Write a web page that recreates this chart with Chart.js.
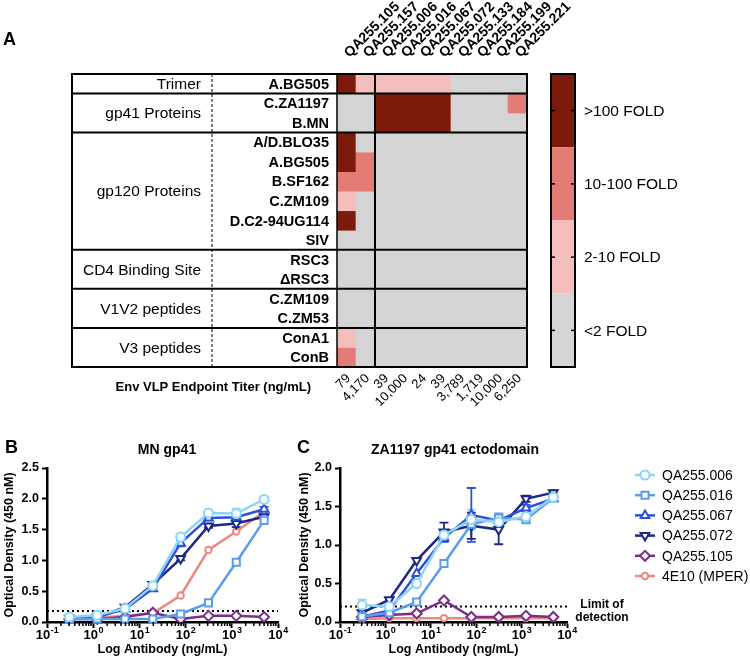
<!DOCTYPE html>
<html>
<head>
<meta charset="utf-8">
<title>Env VLP binding</title>
<script src="https://cdn.jsdelivr.net/npm/chart.js@4.4.1/dist/chart.umd.min.js"></script>
<style>
  html, body { margin: 0; padding: 0; background: #fff; }
  #page { position: relative; width: 750px; height: 659px; overflow: hidden; }
  canvas { position: absolute; }
  #heatmap { left: 0; top: 0; }
  #mnChart { left: 0; top: 430px; }
  #zaChart { left: 292px; top: 430px; }
</style>
</head>
<body>
<div id="page">
  <canvas id="heatmap" width="750" height="425"></canvas>
  <canvas id="mnChart" width="292" height="229"></canvas>
  <canvas id="zaChart" width="458" height="229"></canvas>
</div>
<script>
// ---- panel A data ----
const columns = ['QA255.105', 'QA255.157', 'QA255.006', 'QA255.016', 'QA255.067',
                 'QA255.072', 'QA255.133', 'QA255.184', 'QA255.199', 'QA255.221'];
const titers = ['79', '4,170', '39', '10,000', '24', '39', '3,789', '1,719', '10,000', '6,250'];
const groups = ['Trimer', 'gp41 Proteins', 'gp120 Proteins', 'CD4 Binding Site', 'V1V2 peptides', 'V3 peptides'];
const groupSizes = [1, 2, 6, 2, 2, 2];
const antigens = ['A.BG505', 'C.ZA1197', 'B.MN', 'A/D.BLO35', 'A.BG505', 'B.SF162', 'C.ZM109',
                  'D.C2-94UG114', 'SIV', 'RSC3', '\u0394RSC3', 'C.ZM109', 'C.ZM53', 'ConA1', 'ConB'];
// 0 = <2 fold, 1 = 2-10, 2 = 10-100, 3 = >100
const foldLevels = [
  [3, 1, 1, 1, 1, 1, 0, 0, 0, 0],
  [0, 0, 3, 3, 3, 3, 0, 0, 0, 2],
  [0, 0, 3, 3, 3, 3, 0, 0, 0, 0],
  [3, 0, 0, 0, 0, 0, 0, 0, 0, 0],
  [3, 2, 0, 0, 0, 0, 0, 0, 0, 0],
  [2, 2, 0, 0, 0, 0, 0, 0, 0, 0],
  [1, 0, 0, 0, 0, 0, 0, 0, 0, 0],
  [3, 0, 0, 0, 0, 0, 0, 0, 0, 0],
  [0, 0, 0, 0, 0, 0, 0, 0, 0, 0],
  [0, 0, 0, 0, 0, 0, 0, 0, 0, 0],
  [0, 0, 0, 0, 0, 0, 0, 0, 0, 0],
  [0, 0, 0, 0, 0, 0, 0, 0, 0, 0],
  [0, 0, 0, 0, 0, 0, 0, 0, 0, 0],
  [1, 0, 0, 0, 0, 0, 0, 0, 0, 0],
  [2, 0, 0, 0, 0, 0, 0, 0, 0, 0]
];
const foldLabels = ['<2 FOLD', '2-10 FOLD', '10-100 FOLD', '>100 FOLD'];
const foldColors = ['#d4d4d4', '#f3bebb', '#e47c76', '#7c1a0b'];

// ---- panels B, C data ----
const dilutions = [0.305, 1.22, 4.88, 19.5, 78.1, 312.5, 1250, 5000];
const decades = [0.1, 1, 10, 100, 1000, 10000];
const seriesNames = ['QA255.006', 'QA255.016', 'QA255.067', 'QA255.072', 'QA255.105', '4E10 (MPER)'];

const mnLimit = 0.18;
const mn006 = [0.08, 0.11, 0.22, 0.59, 1.38, 1.77, 1.76, 1.99];
const mn016 = [0.05, 0.05, 0.05, 0.05, 0.13, 0.31, 0.97, 1.65];
const mn067 = [0.06, 0.08, 0.21, 0.54, 1.28, 1.69, 1.70, 1.83];
const mn072 = [0.06, 0.08, 0.24, 0.61, 1.03, 1.56, 1.60, 1.71];
const mn105 = [0.05, 0.05, 0.08, 0.15, 0.05, 0.10, 0.10, 0.08];
const mn4E10 = [0.05, 0.07, 0.10, 0.14, 0.43, 1.17, 1.47, 1.79];
const mnErr006 = [0, 0, 0, 0, 0.04, 0.03, 0.08, 0.04];
const mnErr067 = [0, 0, 0, 0.03, 0.05, 0.04, 0.06, 0.04];
const mnErr072 = [0, 0, 0, 0, 0.03, 0.03, 0.06, 0.03];

const zaLimit = 0.2;
const za006 = [0.22, 0.20, 0.50, 1.13, 1.33, 1.30, 1.37, 1.62];
const za016 = [0.07, 0.12, 0.26, 0.76, 1.27, 1.35, 1.33, 1.61];
const za067 = [0.07, 0.15, 0.63, 1.09, 1.39, 1.32, 1.48, 1.60];
const za072 = [0.12, 0.29, 0.80, 1.17, 1.25, 1.20, 1.60, 1.68];
const za105 = [0.065, 0.09, 0.11, 0.28, 0.065, 0.065, 0.08, 0.065];
const za4E10 = [0.04, 0.05, 0.05, 0.05, 0.05, 0.05, 0.05, 0.05];
const zaErr006 = [0.07, 0.02, 0.03, 0.05, 0.13, 0.05, 0.04, 0.04];
const zaErr016 = [0, 0, 0, 0, 0.05, 0.06, 0.04, 0.03];
const zaErr067 = [0, 0, 0, 0.05, 0.35, 0.05, 0.04, 0.03];
const zaErr072 = [0, 0, 0, 0.12, 0.17, 0.19, 0.04, 0.03];

const FONT = "'Liberation Sans', Arial, Helvetica, sans-serif";
Chart.defaults.font.family = FONT;
Chart.defaults.color = '#000';

// ---- panel A: table frame, labels, colour bar ----
const tableFrame = {
  id: 'tableFrame',
  afterDraw(chart) {
    const { ctx, chartArea: a, scales: { x, y } } = chart;
    const left = 72, dashX = 212, nameX = 329, groupX = 201;
    const line = (x0, y0, x1, y1) => { ctx.beginPath(); ctx.moveTo(x0, y0); ctx.lineTo(x1, y1); ctx.stroke(); };
    ctx.save();
    ctx.strokeStyle = '#000';
    ctx.fillStyle = '#000';

    ctx.lineWidth = 1;
    ctx.setLineDash([3, 2]);
    line(dashX, a.top, dashX, a.bottom);
    ctx.setLineDash([]);

    ctx.lineWidth = 1.5;
    line(a.left, a.top, a.left, a.bottom);
    ctx.lineWidth = 2;
    const edge = (x.getPixelForValue(1) + x.getPixelForValue(2)) / 2;
    line(edge, a.top, edge, a.bottom);

    let start = 0;
    ctx.font = '15.5px ' + FONT;
    ctx.textAlign = 'right';
    ctx.textBaseline = 'middle';
    groups.forEach((g, gi) => {
      const end = start + groupSizes[gi];
      const y0 = y.getPixelForValue(start), y1 = y.getPixelForValue(end);
      if (gi < groups.length - 1) line(left, y1, a.right, y1);
      ctx.fillText(g, groupX, (y0 + y1) / 2 + 1);
      start = end;
    });
    ctx.strokeRect(left, a.top, a.right - left, a.bottom - a.top);

    ctx.font = 'bold 14.5px ' + FONT;
    antigens.forEach((name, r) => {
      ctx.fillText(name, nameX, y.getPixelForValue(r + 0.5) + 1);
    });

    // column names on top, rotated
    ctx.font = 'bold 14px ' + FONT;
    ctx.textAlign = 'left';
    ctx.textBaseline = 'alphabetic';
    columns.forEach((c, i) => {
      ctx.save();
      ctx.translate(x.getPixelForValue(i) + 3, a.top - 16);
      ctx.rotate(-Math.PI / 4);
      ctx.fillText(c, 0, 0);
      ctx.restore();
    });

    // endpoint titers under the grid
    ctx.font = '13px ' + FONT;
    ctx.textAlign = 'right';
    titers.forEach((t, i) => {
      ctx.save();
      ctx.translate(x.getPixelForValue(i) + 4.5, a.bottom + 12);
      ctx.rotate(-Math.PI / 4);
      ctx.fillText(t, 0, 0);
      ctx.restore();
    });
    ctx.font = 'bold 13px ' + FONT;
    ctx.fillText('Env VLP Endpoint Titer (ng/mL)', 311, 391);

    ctx.textAlign = 'left';
    ctx.font = 'bold 18px ' + FONT;
    ctx.fillText('A', 3, 45);

    // colour bar
    const bx = 551, bw = 24, seg = (a.bottom - a.top) / foldColors.length;
    ctx.font = '15.5px ' + FONT;
    ctx.textBaseline = 'middle';
    foldColors.forEach((col, k) => {
      const lvl = foldColors.length - 1 - k;
      const top = a.top + k * seg;
      ctx.fillStyle = foldColors[lvl];
      ctx.fillRect(bx, top, bw, seg);
      const mid = top + seg / 2;
      ctx.lineWidth = 1.5;
      line(bx + 1, mid, bx + 4, mid);
      line(bx + bw - 4, mid, bx + bw - 1, mid);
      ctx.fillStyle = '#000';
      ctx.fillText(foldLabels[lvl], 584, mid + 1);
    });
    ctx.lineWidth = 2;
    ctx.strokeRect(bx, a.top, bw, a.bottom - a.top);
    ctx.restore();
  }
};

new Chart(document.getElementById('heatmap').getContext('2d'), {
  type: 'bar',
  data: {
    labels: columns,
    datasets: antigens.map((name, r) => ({
      label: name,
      data: columns.map(() => 1),
      backgroundColor: foldLevels[r].map(l => foldColors[l]),
      borderWidth: 0,
      barPercentage: 1,
      categoryPercentage: 1
    }))
  },
  options: {
    responsive: false,
    animation: false,
    layout: { padding: { left: 337, right: 223, top: 74, bottom: 58 } },
    plugins: { legend: { display: false }, tooltip: { enabled: false } },
    scales: {
      x: { display: false, stacked: true },
      y: { display: false, stacked: true, min: 0, max: antigens.length, reverse: true }
    }
  },
  plugins: [tableFrame]
});

// ---- panels B, C helpers ----
const errorBars = {
  id: 'errorBars',
  beforeDatasetsDraw(chart) {
    const { ctx, scales: { x, y } } = chart;
    chart.data.datasets.forEach(ds => {
      if (!ds.errors) return;
      ctx.save();
      ctx.strokeStyle = ds.borderColor;
      ctx.lineWidth = 1.8;
      ds.data.forEach((p, j) => {
        const e = ds.errors[j];
        if (!e) return;
        const px = x.getPixelForValue(p.x);
        const top = y.getPixelForValue(p.y + e), bot = y.getPixelForValue(Math.max(0, p.y - e));
        ctx.beginPath();
        ctx.moveTo(px, top); ctx.lineTo(px, bot);
        ctx.moveTo(px - 4.5, top); ctx.lineTo(px + 4.5, top);
        ctx.moveTo(px - 4.5, bot); ctx.lineTo(px + 4.5, bot);
        ctx.stroke();
      });
      ctx.restore();
    });
  }
};

const logAxis = {
  id: 'logAxis',
  afterDraw(chart) {
    const { ctx, chartArea: a, scales: { x } } = chart;
    ctx.save();
    ctx.strokeStyle = '#000';
    ctx.lineWidth = 1.5;
    decades.slice(0, -1).forEach(d => {
      for (let k = 2; k < 10; k++) {
        const px = x.getPixelForValue(d * k);
        ctx.beginPath(); ctx.moveTo(px, a.bottom); ctx.lineTo(px, a.bottom + 4); ctx.stroke();
      }
    });
    ctx.fillStyle = '#000';
    ctx.textAlign = 'left';
    ctx.textBaseline = 'alphabetic';
    x.ticks.forEach(t => {
      const px = x.getPixelForValue(t.value);
      const exp = String(Math.round(Math.log10(t.value)));
      ctx.font = 'bold 13px ' + FONT;
      const wb = ctx.measureText('10').width;
      ctx.font = 'bold 9px ' + FONT;
      const we = ctx.measureText(exp).width;
      const x0 = px - (wb + we) / 2;
      ctx.font = 'bold 13px ' + FONT;
      ctx.fillText('10', x0, a.bottom + 17);
      ctx.font = 'bold 9px ' + FONT;
      ctx.fillText(exp, x0 + wb + 0.5, a.bottom + 11);
    });
    ctx.restore();
  }
};

const panelText = {
  id: 'panelText',
  afterDraw(chart, args, opts) {
    const { ctx } = chart;
    ctx.save();
    ctx.fillStyle = '#000';
    ctx.textBaseline = 'alphabetic';
    ctx.textAlign = 'left';
    ctx.font = 'bold 18px ' + FONT;
    ctx.fillText(opts.letter, 5, 23);
    ctx.textAlign = 'center';
    ctx.font = 'bold 14px ' + FONT;
    ctx.fillText(opts.title, opts.titleX, 24);
    if (opts.legend) {
      const items = chart.data.datasets.filter(d => !d.isLimit);
      items.forEach((ds, i) => {
        const yy = opts.legend.top + i * opts.legend.step;
        const lx = opts.legend.x;
        ctx.strokeStyle = ds.borderColor;
        ctx.lineWidth = 2.5;
        ctx.beginPath(); ctx.moveTo(lx, yy); ctx.lineTo(lx + 20, yy); ctx.stroke();
        ctx.fillStyle = ds.pointBackgroundColor;
        ctx.lineWidth = ds.pointBorderWidth;
        if (Chart.helpers && Chart.helpers.drawPoint) {
          Chart.helpers.drawPoint(ctx, {
            pointStyle: ds.pointStyle, rotation: ds.pointRotation || 0,
            radius: ds.pointRadius, borderWidth: ds.pointBorderWidth
          }, lx + 10, yy);
        }
        ctx.fillStyle = '#000';
        ctx.textAlign = 'left';
        ctx.textBaseline = 'middle';
        ctx.font = '14px ' + FONT;
        ctx.fillText(ds.label, lx + 27, yy + 1);
      });
      ctx.font = 'bold 12px ' + FONT;
      ctx.textAlign = 'center';
      ctx.fillText('Limit of', opts.lod.x, opts.lod.y);
      ctx.fillText('detection', opts.lod.x, opts.lod.y + 13);
    }
    ctx.restore();
  }
};

const seriesStyles = [
  { color: '#8dd5f4', pointStyle: 'circle', radius: 4.5, rotation: 0, fill: '#fff' },
  { color: '#5b9de9', pointStyle: 'rect', radius: 5, rotation: 0, fill: '#fff' },
  { color: '#3050dc', pointStyle: 'triangle', radius: 5, rotation: 0, fill: '#fff' },
  { color: '#1c2884', pointStyle: 'triangle', radius: 5, rotation: 180, fill: '#fff' },
  { color: '#7b2d8d', pointStyle: 'rectRot', radius: 5, rotation: 0, fill: '#fff' },
  { color: '#ec897d', pointStyle: 'circle', radius: 3.2, rotation: 0, fill: '#fff' }
];

function curveChart(canvasId, values, errors, limit, yMax, yAxisWidth, titlePad, text) {
  const datasets = values.map((vals, i) => {
    const st = seriesStyles[i];
    return {
      label: seriesNames[i],
      data: dilutions.map((d, j) => ({ x: d, y: vals[j] })),
      errors: errors[i],
      showLine: true,
      borderColor: st.color,
      borderWidth: 2.5,
      pointStyle: st.pointStyle,
      pointRotation: st.rotation,
      pointRadius: st.radius,
      pointBorderWidth: 2,
      pointBorderColor: st.color,
      pointBackgroundColor: st.fill,
      clip: false
    };
  });
  datasets.push({
    label: 'Limit of detection',
    isLimit: true,
    data: [{ x: decades[0], y: limit }, { x: decades[decades.length - 1], y: limit }],
    showLine: true,
    borderColor: '#000',
    borderWidth: 2,
    borderDash: [2, 3],
    pointRadius: 0
  });
  return new Chart(document.getElementById(canvasId).getContext('2d'), {
    type: 'scatter',
    data: { datasets },
    options: {
      responsive: false,
      animation: false,
      layout: { padding: { left: 0, top: 38, right: text.rightPad, bottom: 0 } },
      plugins: { legend: { display: false }, tooltip: { enabled: false }, panelText: text },
      scales: {
        x: {
          type: 'logarithmic',
          min: decades[0],
          max: decades[decades.length - 1],
          afterBuildTicks: s => { s.ticks = decades.map(v => ({ value: v, major: true })); },
          afterFit: s => { s.height = 37; },
          ticks: { display: false },
          grid: { drawOnChartArea: false, drawTicks: true, tickLength: 6, tickWidth: 2, tickColor: '#000' },
          border: { display: true, color: '#000', width: 2.5 },
          title: { display: true, text: 'Log Antibody (ng/mL)', font: { weight: 'bold', size: 12.5 }, padding: { top: 0, bottom: 1.5 } }
        },
        y: {
          min: 0,
          max: yMax,
          afterFit: s => { s.width = yAxisWidth; },
          ticks: { stepSize: 0.5, callback: v => v.toFixed(1), font: { weight: 'bold', size: 12.5 }, padding: 3, color: '#000' },
          grid: { drawOnChartArea: false, drawTicks: true, tickLength: 5, tickWidth: 2, tickColor: '#000' },
          border: { display: true, color: '#000', width: 2.5 },
          title: { display: true, text: 'Optical Density (450 nM)', font: { weight: 'bold', size: 12.5 }, padding: { top: titlePad, bottom: 0 } }
        }
      }
    },
    plugins: [errorBars, logAxis, panelText]
  });
}

curveChart('mnChart',
  [mn006, mn016, mn067, mn072, mn105, mn4E10],
  [mnErr006, null, mnErr067, mnErr072, null, null],
  mnLimit, 2.5, 47, 2.5,
  { letter: 'B', title: 'MN gp41', titleX: 167, rightPad: 14 });

curveChart('zaChart',
  [za006, za016, za067, za072, za105, za4E10],
  [zaErr006, zaErr016, zaErr067, zaErr072, null, null],
  zaLimit, 2.0, 48, 5.5,
  { letter: 'C', title: 'ZA1197 gp41 ectodomain', titleX: 163, rightPad: 183,
    legend: { x: 343, top: 45, step: 20.2 }, lod: { x: 310, y: 175 } });
</script>
</body>
</html>
